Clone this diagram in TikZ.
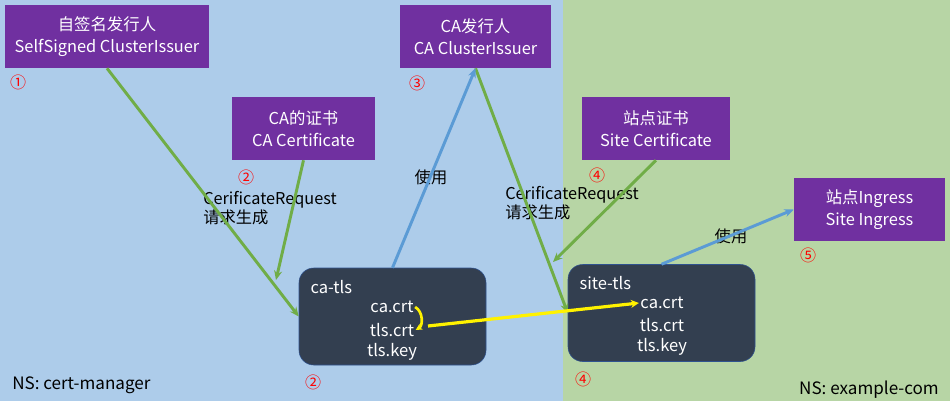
\documentclass[tikz,border=0pt]{standalone}
\usepackage{fontspec}
\setmainfont{Noto Sans CJK SC}
\usetikzlibrary{arrows.meta}
\usetikzlibrary{positioning}

\definecolor{nsblue}{RGB}{173,204,234}
\definecolor{nsgreen}{RGB}{183,213,165}
\definecolor{issuer}{RGB}{112,48,160}
\definecolor{secret}{RGB}{51,63,80}
\definecolor{secretline}{RGB}{47,82,143}
\definecolor{reqgreen}{RGB}{112,173,71}
\definecolor{useblue}{RGB}{91,155,213}

\tikzset{
  resbox/.style={fill=issuer, text=white, align=center, inner sep=0pt,
    minimum height=47.25pt, font=\fontsize{12.3}{16.5}\selectfont},
  secbox/.style={fill=secret, draw=secretline, rounded corners=11pt,
    minimum width=140.25pt, minimum height=72.75pt},
  sectext/.style={text=white, inner sep=1pt, font=\fontsize{12.4}{14}\selectfont},
  stepnum/.style={text=red, inner sep=0pt, font=\fontsize{12}{14}\selectfont},
  lbl/.style={inner sep=0pt, align=left, font=\fontsize{12.2}{14.5}\selectfont},
  reqline/.style={reqgreen, line width=2.2pt, -{Stealth[length=7pt,width=6pt]}},
  useline/.style={useblue, line width=2.2pt, -{Stealth[length=7pt,width=6pt]}},
}

\begin{document}
\begin{tikzpicture}[x=0.75pt, y=-0.75pt]
		% Namespaces
		\fill[nsblue]  (0,0) rectangle (563,401);
		\fill[nsgreen] (563,0) rectangle (950,401);
		\useasboundingbox (0,0) rectangle (950,401);

		% Issuers and certificates
		\node[resbox, minimum width=153pt]    (selfiss)  at (107,36.5)  {自签名发行人\\SelfSigned ClusterIssuer};
		\node[resbox, minimum width=107.25pt] (cacert)   at (303.5,128.5) {CA的证书\\CA Certificate};
		\node[resbox, minimum width=113.25pt] (caiss)    at (475.5,36.5) {CA发行人\\CA ClusterIssuer};
		\node[resbox, minimum width=111pt]    (sitecert) at (656,128.5) {站点证书\\Site Certificate};
		\node[resbox, minimum width=113.25pt] (ingress)  at (869.5,209.5) {站点Ingress\\Site Ingress};

		% Secrets
		\node[secbox] (catls)   at (392.5,316.5) {};
		\node[secbox] (sitetls) at (661.5,313) {};

		\node[sectext, anchor=west] (catlsname) at (309,287) {ca-tls};
		\node[sectext] (cacrt)  at (392,307) {ca.crt};
		\node[sectext] (catcrt) at (392,330) {tls.crt};
		\node[sectext] (catkey) at (392,352) {tls.key};

		\node[sectext, anchor=west] (sitetlsname) at (578,283) {site-tls};
		\node[sectext] (sitecacrt) at (662,303) {ca.crt};
		\node[sectext] (sitetcrt)  at (662,325) {tls.crt};
		\node[sectext] (sitetkey)  at (662,347) {tls.key};

		% Steps
		\node[stepnum] (n1)  at (18,82)   {①};
		\node[stepnum] (n2)  at (246,177) {②};
		\node[stepnum] (n3)  at (417,83)  {③};
		\node[stepnum] (n4)  at (597,175) {④};
		\node[stepnum] (n5)  at (808,255) {⑤};
		\node[stepnum] (n2b) at (313,382) {②};
		\node[stepnum] (n4b) at (583,379) {④};

		% Labels
		\node[lbl, anchor=north west] (req1) at (203,191) {CerificateRequest\\请求生成};
		\node[lbl, anchor=north west] (req2) at (505,186) {CerificateRequest\\请求生成};
		\node[lbl] (use1) at (431,177) {使用};
		\node[lbl] (use2) at (731,236) {使用};
		\node[lbl, anchor=west, font=\fontsize{12.8}{15}\selectfont] (ns1) at (12,385) {NS: cert-manager};
		\node[lbl, anchor=east, font=\fontsize{12.8}{15}\selectfont] (ns2) at (939,390) {NS: example-com};

		% Free ends
		\coordinate (careqend)   at (276,280);
		\coordinate (sitereqend) at (553,262);
		\coordinate (copystart)  at (428,326);

		% Requests
		\draw[reqline] (selfiss.south) -- (catls.west);
		\draw[reqline] (cacert.south) -- (careqend);
		\draw[reqline] (caiss.south) -- (sitetls.west);
		\draw[reqline] (sitecert.south) -- (sitereqend);

		% Usage
		\draw[useline] (catls.north) -- (caiss.south);
		\draw[useline] (sitetls.north) -- (ingress.west);

		% Copy of ca.crt
		\draw[yellow, line width=2pt, -{Stealth[length=5pt,width=5pt]}] (cacrt.east) to[bend left=60] (catcrt.east);
		\draw[yellow, line width=2.4pt, -{Stealth[length=6pt,width=6pt]}] (copystart) -- (sitecacrt.west);
	\end{tikzpicture}
\end{document}
